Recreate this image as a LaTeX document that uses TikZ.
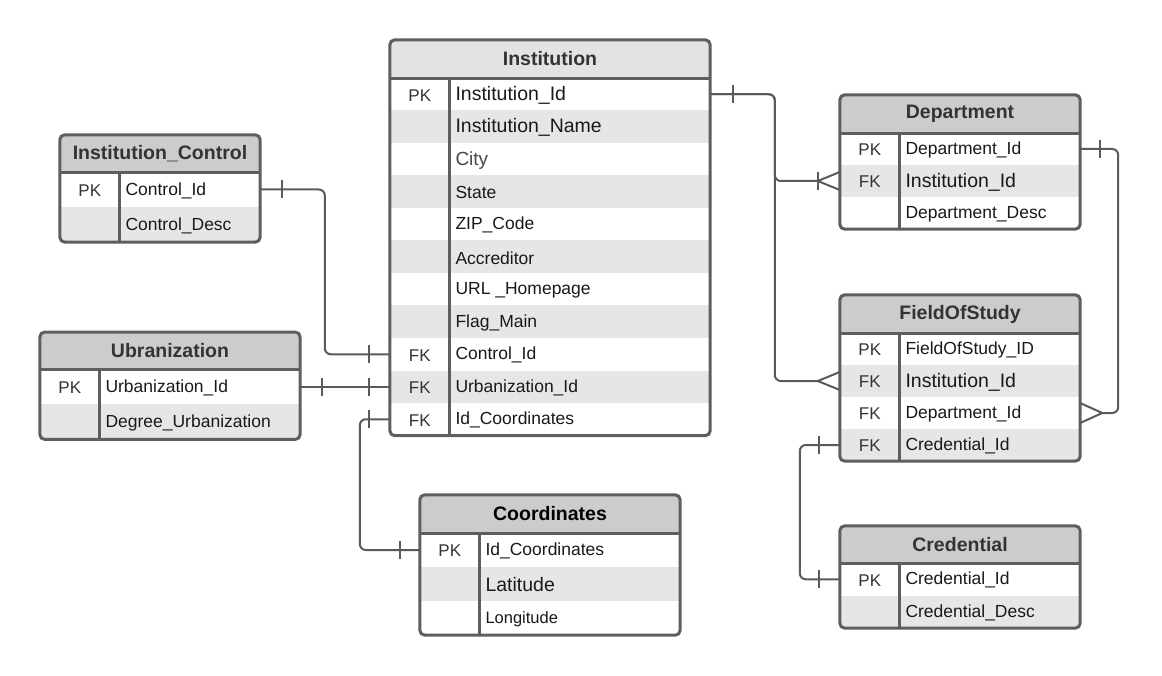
\documentclass[tikz,border=0pt]{standalone}
\usepackage{fontspec}
\setmainfont{Liberation Sans}
\definecolor{edgegray}{HTML}{5E5E5E}
\definecolor{linegray}{HTML}{5A5A5A}
\definecolor{hdgray}{HTML}{CCCCCC}
\definecolor{hdlight}{HTML}{E3E3E3}
\definecolor{rowgray}{HTML}{E6E6E6}

\begin{document}
\begin{tikzpicture}[x=1pt,y=-1pt]
	\tikzstyle{head}=[minimum height=38pt,inner sep=0pt,fill=hdgray,text=black!80,font=\fontsize{19.5}{22}\selectfont\bfseries]
	\tikzstyle{row}=[minimum height=32.5pt,inner sep=0pt]
	\tikzstyle{keytxt}=[anchor=center,xshift=30pt,yshift=-1pt,inner sep=0pt,text=black!80,font=\fontsize{17}{20}\selectfont]
	\tikzstyle{fldtxt}=[anchor=west,xshift=65.5pt,yshift=-1pt,inner sep=0pt,text=black!90,font=\fontsize{17.5}{20}\selectfont]
	\tikzstyle{pk}=[label={[keytxt]west:PK}]
	\tikzstyle{fk}=[label={[keytxt]west:FK}]
	\tikzstyle{fld}=[label={[fldtxt]west:#1}]
	\tikzstyle{bigfld}=[label={[fldtxt,font=\fontsize{19.5}{22}\selectfont]west:#1}]
	\tikzstyle{frame}=[draw=edgegray,line width=3pt,rounded corners=5pt]
	\tikzstyle{sep}=[draw=edgegray,line width=3pt]
	\tikzstyle{rel}=[draw=linegray,line width=2pt,rounded corners=6pt]
	\tikzstyle{notch}=[draw=linegray,line width=2pt]
	\useasboundingbox (0,0) rectangle (1162,676);
	% Institution
	\node[head,minimum width=320pt,fill=hdlight] (inst) at (550,59) {Institution};
	\node[row,minimum width=320pt,pk,bigfld={Institution\_Id}] (inst-id) at (550,94.25) {};
	\node[row,minimum width=320pt,fill=rowgray,bigfld={Institution\_Name}] (inst-name) at (550,126.75) {};
	\node[row,minimum width=320pt,label={[fldtxt,text=black!72,font=\fontsize{19}{22}\selectfont]west:City}] (inst-city) at (550,159.25) {};
	\node[row,minimum width=320pt,fill=rowgray,fld={State}] (inst-state) at (550,191.75) {};
	\node[row,minimum width=320pt,fld={ZIP\_Code}] (inst-zip) at (550,224.25) {};
	\node[row,minimum width=320pt,fill=rowgray,fld={Accreditor}] (inst-accr) at (550,256.75) {};
	\node[row,minimum width=320pt,fld={URL \_Homepage}] (inst-url) at (550,289.25) {};
	\node[row,minimum width=320pt,fill=rowgray,fld={Flag\_Main}] (inst-flag) at (550,321.75) {};
	\node[row,minimum width=320pt,fk,fld={Control\_Id}] (inst-ctrl) at (550,354.25) {};
	\node[row,minimum width=320pt,fill=rowgray,fk,fld={Urbanization\_Id}] (inst-urb) at (550,386.75) {};
	\node[row,minimum width=320pt,fk,fld={Id\_Coordinates}] (inst-coord) at (550,419.25) {};
	\draw[frame] (inst.north west) rectangle (inst-coord.south east);
	\draw[sep] (inst.south west) -- (inst.south east);
	\draw[sep] ([xshift=60pt]inst.south west) -- ([xshift=60pt]inst-coord.south west);
	% Institution_Control
	\node[head,minimum width=200pt,minimum height=37pt] (ctrl) at (160,153.5) {Institution\_Control};
	\node[row,minimum width=200pt,minimum height=35pt,pk,fld={Control\_Id}] (ctrl-id) at (160,189.5) {};
	\node[row,minimum width=200pt,minimum height=35pt,fill=rowgray,fld={Control\_Desc}] (ctrl-desc) at (160,224.5) {};
	\draw[frame] (ctrl.north west) rectangle (ctrl-desc.south east);
	\draw[sep] (ctrl.south west) -- (ctrl.south east);
	\draw[sep] ([xshift=60pt]ctrl.south west) -- ([xshift=60pt]ctrl-desc.south west);
	% Ubranization
	\node[head,minimum width=260pt,minimum height=37pt] (urb) at (170,350.75) {Ubranization};
	\node[row,minimum width=260pt,minimum height=35pt,pk,fld={Urbanization\_Id}] (urb-id) at (170,386.75) {};
	\node[row,minimum width=260pt,minimum height=35pt,fill=rowgray,fld={Degree\_Urbanization}] (urb-deg) at (170,421.75) {};
	\draw[frame] (urb.north west) rectangle (urb-deg.south east);
	\draw[sep] (urb.south west) -- (urb.south east);
	\draw[sep] ([xshift=60pt]urb.south west) -- ([xshift=60pt]urb-deg.south west);
	% Coordinates
	\node[head,minimum width=260pt,text=black] (coord) at (550,514) {Coordinates};
	\node[row,minimum width=260pt,minimum height=34pt,pk,fld={Id\_Coordinates}] (coord-id) at (550,550) {};
	\node[row,minimum width=260pt,minimum height=34pt,fill=rowgray,bigfld={Latitude}] (coord-lat) at (550,584) {};
	\node[row,minimum width=260pt,minimum height=34pt,label={[fldtxt,font=\fontsize{16.5}{20}\selectfont]west:Longitude}] (coord-lon) at (550,618) {};
	\draw[frame] (coord.north west) rectangle (coord-lon.south east);
	\draw[sep] (coord.south west) -- (coord.south east);
	\draw[sep] ([xshift=60pt]coord.south west) -- ([xshift=60pt]coord-lon.south west);
	% Department
	\node[head,minimum width=240pt] (dept) at (960,114) {Department};
	\node[row,minimum width=240pt,minimum height=32pt,pk,fld={Department\_Id}] (dept-id) at (960,149) {};
	\node[row,minimum width=240pt,minimum height=32pt,fill=rowgray,fk,bigfld={Institution\_Id}] (dept-inst) at (960,181) {};
	\node[row,minimum width=240pt,minimum height=32pt,fld={Department\_Desc}] (dept-desc) at (960,213) {};
	\draw[frame] (dept.north west) rectangle (dept-desc.south east);
	\draw[sep] (dept.south west) -- (dept.south east);
	\draw[sep] ([xshift=60pt]dept.south west) -- ([xshift=60pt]dept-desc.south west);
	% FieldOfStudy
	\node[head,minimum width=240pt] (fos) at (960,314) {FieldOfStudy};
	\node[row,minimum width=240pt,minimum height=32pt,pk,fld={FieldOfStudy\_ID}] (fos-id) at (960,349) {};
	\node[row,minimum width=240pt,minimum height=32pt,fill=rowgray,fk,bigfld={Institution\_Id}] (fos-inst) at (960,381) {};
	\node[row,minimum width=240pt,minimum height=32pt,fk,fld={Department\_Id}] (fos-dept) at (960,413) {};
	\node[row,minimum width=240pt,minimum height=32pt,fill=rowgray,fk,fld={Credential\_Id}] (fos-cred) at (960,445) {};
	\draw[frame] (fos.north west) rectangle (fos-cred.south east);
	\draw[sep] (fos.south west) -- (fos.south east);
	\draw[sep] ([xshift=60pt]fos.south west) -- ([xshift=60pt]fos-cred.south west);
	% Credential
	\node[head,minimum width=240pt,minimum height=37pt] (cred) at (960,544.5) {Credential};
	\node[row,minimum width=240pt,pk,fld={Credential\_Id}] (cred-id) at (960,579.25) {};
	\node[row,minimum width=240pt,fill=rowgray,fld={Credential\_Desc}] (cred-desc) at (960,611.75) {};
	\draw[frame] (cred.north west) rectangle (cred-desc.south east);
	\draw[sep] (cred.south west) -- (cred.south east);
	\draw[sep] ([xshift=60pt]cred.south west) -- ([xshift=60pt]cred-desc.south west);
	% relations
	\draw[rel,shorten >=22pt] (inst-id.east) -| ([xshift=-65pt]dept-inst.west) -- (dept-inst.west);
	\draw[notch] ([xshift=23pt]inst-id.east) +(0,-9) -- +(0,9);
	\draw[notch] ([xshift=-22pt]dept-inst.west) +(0,-9) -- +(0,9);
	\draw[notch] ([shift={(0,-9)}]dept-inst.west) -- ([xshift=-22pt]dept-inst.west) -- ([shift={(0,9)}]dept-inst.west);
	\draw[rel,shorten >=22pt] (inst-id.east) -| ([xshift=-65pt]fos-inst.west) -- (fos-inst.west);
	\draw[notch] ([shift={(0,-9)}]fos-inst.west) -- ([xshift=-22pt]fos-inst.west) -- ([shift={(0,9)}]fos-inst.west);
	\draw[rel,shorten >=22pt] (dept-id.east) -| ([xshift=38pt]fos-dept.east) -- (fos-dept.east);
	\draw[notch] ([xshift=20pt]dept-id.east) +(0,-9) -- +(0,9);
	\draw[notch] ([shift={(0,-10)}]fos-dept.east) -- ([xshift=22pt]fos-dept.east) -- ([shift={(0,10)}]fos-dept.east);
	\draw[rel] (fos-cred.west) -| ([xshift=-40pt]cred-id.west) -- (cred-id.west);
	\draw[notch] ([xshift=-21pt]fos-cred.west) +(0,-9) -- +(0,9);
	\draw[notch] ([xshift=-21pt]cred-id.west) +(0,-9) -- +(0,9);
	\draw[rel] (ctrl-id.east) -| ([xshift=-65pt]inst-ctrl.west) -- (inst-ctrl.west);
	\draw[notch] ([xshift=22pt]ctrl-id.east) +(0,-9) -- +(0,9);
	\draw[notch] ([xshift=-21pt]inst-ctrl.west) +(0,-9) -- +(0,9);
	\draw[rel] (urb-id.east) -- (inst-urb.west);
	\draw[notch] ([xshift=22pt]urb-id.east) +(0,-9) -- +(0,9);
	\draw[notch] ([xshift=-21pt]inst-urb.west) +(0,-9) -- +(0,9);
	\draw[rel] (inst-coord.west) -| ([xshift=-60pt]coord-id.west) -- (coord-id.west);
	\draw[notch] ([xshift=-21pt]inst-coord.west) +(0,-9) -- +(0,9);
	\draw[notch] ([xshift=-20pt]coord-id.west) +(0,-9) -- +(0,9);
\end{tikzpicture}
\end{document}
